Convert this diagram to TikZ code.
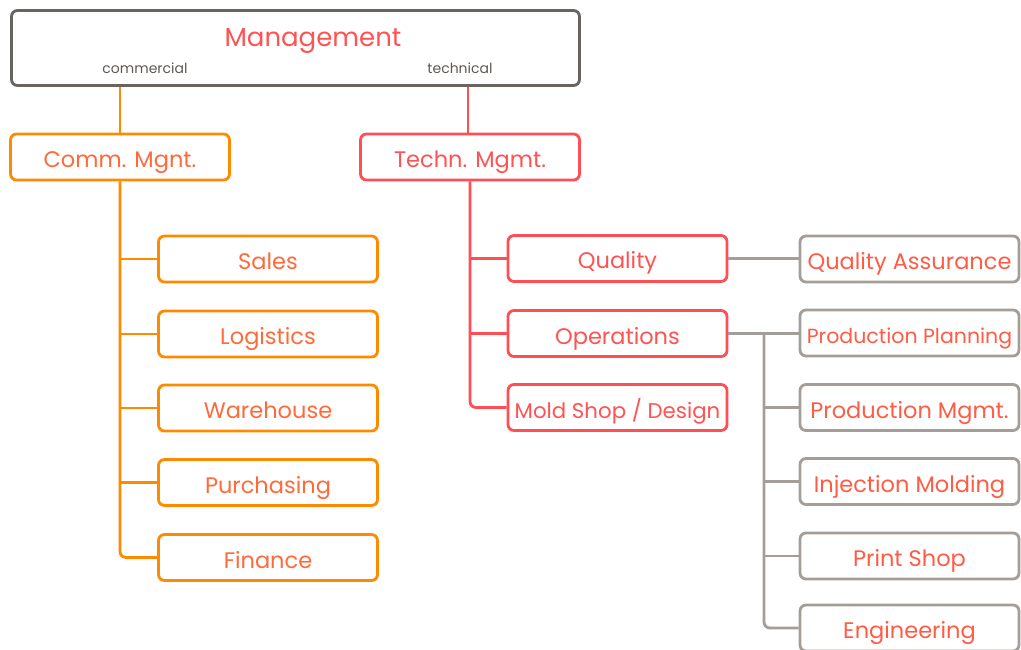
\documentclass[tikz,border=0pt]{standalone}
\usepackage{fontspec}
\setmainfont{Poppins}
\definecolor{orgline}{HTML}{FF8A00}
\definecolor{redline}{HTML}{FF4F55}
\definecolor{grayline}{HTML}{A59D97}
\definecolor{darkline}{HTML}{6B635E}
\definecolor{orgtext}{HTML}{FF6A3A}
\definecolor{redtext}{HTML}{FF5252}
\definecolor{graytext}{HTML}{FF5C45}
\definecolor{smalltext}{HTML}{5F5853}
\tikzset{
  box/.style={draw, rounded corners=6pt, line width=2.8pt, inner sep=0pt,
    minimum width=219pt, minimum height=46pt, fill=white,
    text height=23pt, text depth=2pt,
    font=\fontsize{22.5}{24}\selectfont},
  obox/.style={box, draw=orgline, text=orgtext},
  rbox/.style={box, draw=redline, text=redtext},
  gbox/.style={box, draw=grayline, text=graytext},
  oline/.style={draw=orgline, line width=2.8pt},
  rline/.style={draw=redline, line width=2.8pt},
  gline/.style={draw=grayline, line width=2.8pt},
}
\begin{document}
\begin{tikzpicture}[x=1pt,y=-1pt]
\useasboundingbox (0,0) rectangle (1021,650);
% top box
\node[draw=darkline, rounded corners=6pt, line width=2.8pt, minimum width=568pt, minimum height=75pt, inner sep=0pt] (mgmt) at (295.5,48) {};
\node[text=redtext, font=\fontsize{26}{28}\selectfont, text height=18pt, text depth=2pt, inner sep=0pt] (mtitle) at (313,39) {Management};
\node[text=smalltext, font=\fontsize{14}{16}\selectfont, inner sep=0pt] (mcom) at (145,68) {commercial};
\node[text=smalltext, font=\fontsize{14}{16}\selectfont, inner sep=0pt] (mtech) at (460,68) {technical};
% second level
\node[obox] (comm) at (120,157) {Comm. Mgnt.};
\node[rbox] (techn) at (470,157) {Techn. Mgmt.};
% commercial children
\node[obox] (sales) at (268,259) {Sales};
\node[obox] (logi) at (268,334) {Logistics};
\node[obox] (ware) at (268,408) {Warehouse};
\node[obox] (purch) at (268,482.5) {Purchasing};
\node[obox] (fin) at (268,557.5) {Finance};
% technical children
\node[rbox] (qual) at (617.5,258.5) {Quality};
\node[rbox] (ops) at (617.5,333.5) {Operations};
\node[rbox, font=\fontsize{21.3}{24}\selectfont] (mold) at (617.5,407.5) {Mold Shop / Design};
% operations children
\node[gbox] (qa) at (909.5,259) {Quality Assurance};
\node[gbox, font=\fontsize{20.5}{22}\selectfont] (pp) at (909.5,333) {Production Planning};
\node[gbox] (pm) at (909.5,407.5) {Production Mgmt.};
\node[gbox] (im) at (909.5,481.5) {Injection Molding};
\node[gbox] (ps) at (909.5,556) {Print Shop};
\node[gbox] (eng) at (909.5,628) {Engineering};
% connectors top
\draw[oline] (comm.north) -- (comm.north |- mgmt.south);
\draw[rline] (468,133) coordinate (tn) -- (tn |- mgmt.south);
% commercial tree
\draw[oline, rounded corners=6pt] (comm.south) |- (fin.west);
\foreach \n in {sales,logi,ware,purch}
  \draw[oline] (comm.south |- \n.west) -- (\n.west);
% technical tree
\draw[rline, rounded corners=6pt] (techn.south) |- (mold.west);
\foreach \n in {qual,ops}
  \draw[rline] (techn.south |- \n.west) -- (\n.west);
% gray
\draw[gline] (qual.east) -- (qual.east -| qa.west);
\draw[gline] (ops.east) -- (ops.east -| pp.west);
\coordinate (gt) at (764,333.5);
\draw[gline, rounded corners=6pt] (gt) |- (eng.west);
\foreach \n in {pm,im,ps}
  \draw[gline] (gt |- \n.west) -- (\n.west);
\end{tikzpicture}
\end{document}
